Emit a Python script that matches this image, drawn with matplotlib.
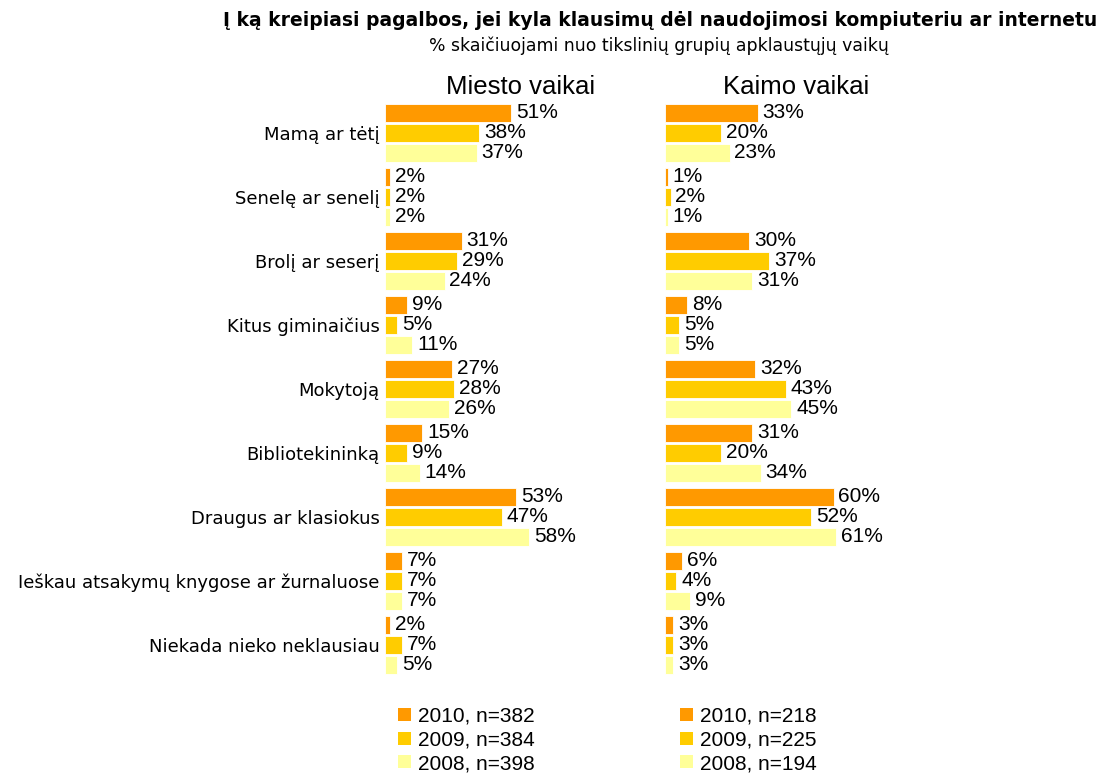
import numpy as np
import matplotlib
matplotlib.use("Agg")
import matplotlib.pyplot as plt
from matplotlib.patches import Patch

# Kategorijos
categories = ["Mamą ar tėtį", "Senelę ar senelį", "Brolį ar seserį", "Kitus giminaičius",
              "Mokytoją", "Bibliotekininką", "Draugus ar klasiokus",
              "Ieškau atsakymų knygose ar žurnaluose", "Niekada nieko neklausiau"]

# Miesto vaikai
city_2010 = [51, 2, 31, 9, 27, 15, 53, 7, 2]
city_2009 = [38, 2, 29, 5, 28, 9, 47, 7, 7]
city_2008 = [37, 2, 24, 11, 26, 14, 58, 7, 5]
city_labels = ["2010, n=382", "2009, n=384", "2008, n=398"]

# Kaimo vaikai
rural_2010 = [33, 1, 30, 8, 32, 31, 60, 6, 3]
rural_2009 = [20, 2, 37, 5, 43, 20, 52, 4, 3]
rural_2008 = [23, 1, 31, 5, 45, 34, 61, 9, 3]
rural_labels = ["2010, n=218", "2009, n=225", "2008, n=194"]

colors = ["#FF9900", "#FFCC00", "#FFFF99"]

W, H = 1103, 775
fig = plt.figure(figsize=(W / 100, H / 100), dpi=100)

ax_bottom = 1 - 677 / H
ax_height = 576 / H
ax1 = fig.add_axes([385 / W, ax_bottom, 248 / W, ax_height])
ax2 = fig.add_axes([665 / W, ax_bottom, 281 / W, ax_height])

y = np.arange(len(categories))
offsets = [-0.3125, 0, 0.3125]
bar_h = 0.29

def draw_panel(ax, series, labels, show_cats):
    for vals, off, col, lab in zip(series, offsets, colors, labels):
        bars = ax.barh(y + off, vals, height=bar_h, color=col, edgecolor="white",
                       linewidth=0.6, label=lab)
        ax.bar_label(bars, labels=[f"{v}%" for v in vals], padding=3.5,
                     fontsize=15, family="Liberation Sans", color="black")
    ax.set_xlim(0, 100)
    ax.set_ylim(len(categories) - 0.5, -0.5)
    for s in ax.spines.values():
        s.set_visible(False)
    ax.set_xticks([])
    if show_cats:
        ax.set_yticks(y)
        ax.set_yticklabels(categories, fontsize=13, family="DejaVu Sans")
        ax.tick_params(axis="y", length=0, pad=4)
    else:
        ax.set_yticks([])

draw_panel(ax1, [city_2010, city_2009, city_2008], city_labels, True)
draw_panel(ax2, [rural_2010, rural_2009, rural_2008], rural_labels, False)

def legend(ax, labels, x_px):
    handles = [Patch(facecolor=c, edgecolor="none") for c in colors]
    ax.legend(handles, labels, loc="upper left",
              bbox_to_anchor=(x_px / W, 1 - 707 / H), bbox_transform=fig.transFigure,
              frameon=False, prop={"family": "Liberation Sans", "size": 15},
              handlelength=0.6, handleheight=0.6, handletextpad=0.35,
              labelspacing=0.22, borderpad=0, borderaxespad=0)

legend(ax1, city_labels, 398)
legend(ax2, rural_labels, 680)

fig.text(1097 / W, 1 - 20 / H,
         "Į ką kreipiasi pagalbos, jei kyla klausimų dėl naudojimosi kompiuteriu ar internetu",
         ha="right", va="center", fontsize=13.5, fontweight="bold", family="DejaVu Sans")
fig.text(659 / W, 1 - 46 / H, "% skaičiuojami nuo tikslinių grupių apklaustųjų vaikų",
         ha="center", va="center", fontsize=12.4, family="DejaVu Sans")
fig.text(521 / W, 1 - 87 / H, "Miesto vaikai", ha="center", va="center",
         fontsize=18.5, family="Liberation Sans")
fig.text(796 / W, 1 - 87 / H, "Kaimo vaikai", ha="center", va="center",
         fontsize=18.5, family="Liberation Sans")

fig.savefig("out.png", dpi=100)
